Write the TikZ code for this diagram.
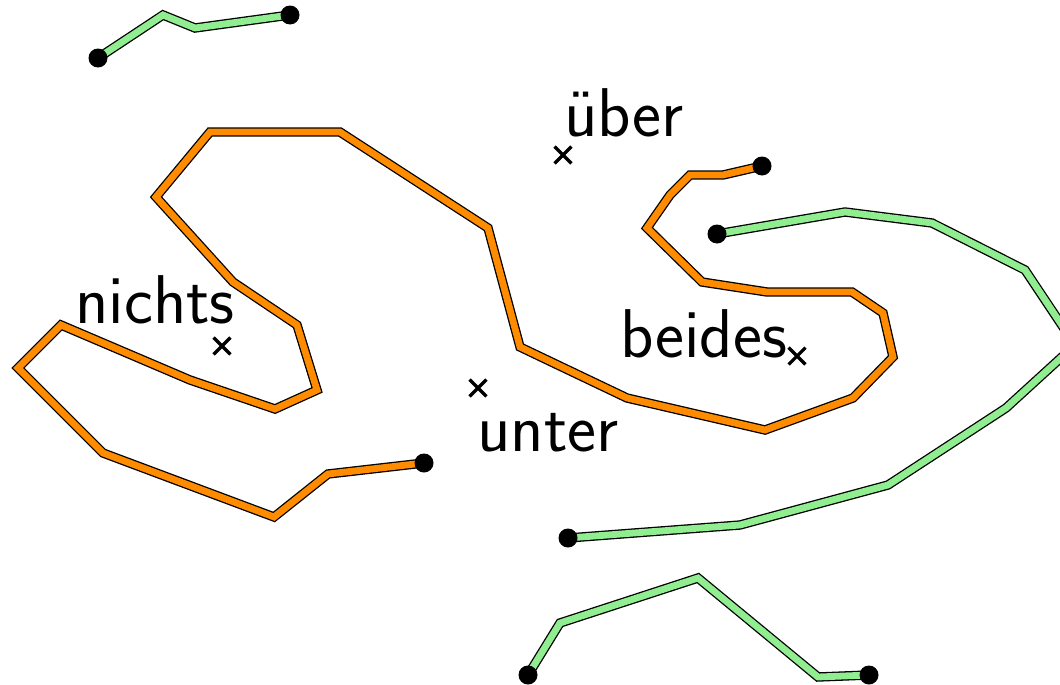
\documentclass[tikz,border=0pt]{standalone}
\usetikzlibrary{shapes.misc}
\definecolor{pathorange}{RGB}{255,140,0}
\definecolor{pathgreen}{RGB}{144,238,144}
\begin{document}
\begin{tikzpicture}[x=0.5pt,y=-0.5pt,
  route/.style={line width=0.65pt, double distance=3.4pt, double=#1, line join=miter},
  enddot/.style={circle, fill=black, inner sep=0pt, minimum size=9.5pt},
  xmark/.style={cross out, draw, line width=1.6pt, inner sep=0pt, minimum size=6.8pt},
  lbl/.style={font=\fontsize{34.5}{41}\selectfont\sffamily, inner sep=0pt, anchor=base west}]
\useasboundingbox (0,0) rectangle (1060,685);

% end points of the routes
\coordinate (g1a) at (98,58);
\coordinate (g1b) at (290,15);
\coordinate (oa) at (424,463);
\coordinate (ob) at (762,166);
\coordinate (g2a) at (717,234);
\coordinate (g2b) at (568,538);
\coordinate (g3a) at (528,675);
\coordinate (g3b) at (869,675);

% green routes
\draw[route=pathgreen] (g1a) -- (163,15) -- (195,28) -- (g1b);
\draw[route=pathgreen] (g2a) -- (845,212) -- (932,223) -- (1025,270) -- (1075,345)
  -- (1006,408) -- (888,485) -- (740,525) -- (g2b);
\draw[route=pathgreen] (g3a) -- (560,623) -- (698,578) -- (818,677) -- (g3b);

% orange route
\draw[route=pathorange] (oa) -- (328,474) -- (274,517) -- (103,453) -- (18,368)
  -- (61,325) -- (190,380) -- (275,409) -- (317,390) -- (297,325) -- (233,282)
  -- (156,197) -- (210,132) -- (340,132) -- (488,228) -- (520,347) -- (627,398)
  -- (765,430) -- (853,398) -- (893,357) -- (883,313) -- (852,292) -- (767,292)
  -- (702,282) -- (647,228) -- (670,195) -- (690,175) -- (723,175) -- (ob);

% dots on the ends
\foreach \p in {g1a,g1b,oa,ob,g2a,g2b,g3a,g3b}
  \node[enddot] at (\p) {};

% marked points and their names
\node[xmark] (pnichts) at (222,346) {};
\node[xmark] (pueber) at (563,155) {};
\node[xmark] (pbeides) at (797,356) {};
\node[xmark] (punter) at (478,388) {};

\node[lbl] (tnichts) at (75,323) {nichts};
\node[lbl] (tueber) at (564,136) {über};
\node[lbl] (tbeides) at (620,357) {beides};
\node[lbl] (tunter) at (477,451) {unter};
\end{tikzpicture}
\end{document}
